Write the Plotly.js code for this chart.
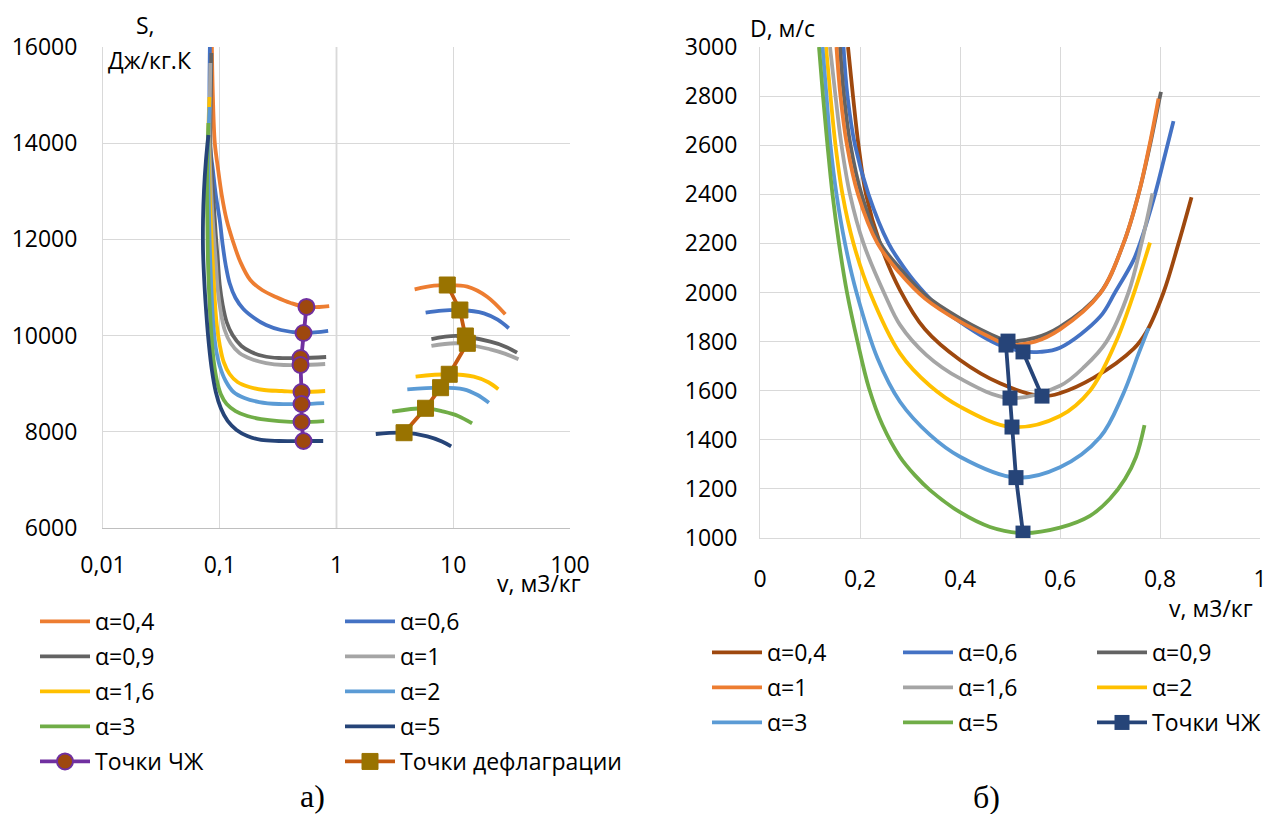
<!DOCTYPE html>
<html>
<head>
<meta charset="utf-8">
<script src="https://cdn.plot.ly/plotly-3.0.1.min.js"></script>
<style>
html,body{margin:0;padding:0;background:#fff;}
#chart{width:1269px;height:814px;}
</style>
</head>
<body>
<div id="chart"></div>
<script>
// ================= DATA =================
const alphaNames = ['α=0,4','α=0,6','α=0,9','α=1','α=1,6','α=2','α=3','α=5'];
const cjName = 'Точки ЧЖ';
const deflName = 'Точки дефлаграции';

// ---- Chart a): S (Дж/кг.К) vs v (м3/кг), log x ----
// detonation branches
const aV04 = [0.0856, 0.0873, 0.0907, 0.0962, 0.104, 0.1146, 0.1287, 0.1503, 0.1826, 0.2306, 0.3027, 0.4053, 0.553, 0.866];
const aS04 = [16000, 15002, 14004, 13505, 12923, 12403, 11988, 11530, 11156, 10948, 10802, 10678, 10595, 10615];
const aV06 = [0.0823, 0.0816, 0.0823, 0.0873, 0.0925, 0.1, 0.106, 0.1124, 0.1214, 0.1365, 0.1594, 0.1974, 0.2492, 0.3336, 0.5216, 0.848];
const aS06 = [16000, 15002, 14004, 13443, 12923, 12403, 11884, 11468, 11094, 10782, 10553, 10366, 10220, 10116, 10054, 10096];
const aV09 = [0.0848, 0.0839, 0.0831, 0.0856, 0.089, 0.0925, 0.0962, 0.1, 0.106, 0.1146, 0.1287, 0.1533, 0.1862, 0.2351, 0.3209, 0.492, 0.8153];
const aS09 = [15875, 15002, 14004, 13339, 12715, 12091, 11572, 11052, 10636, 10283, 10012, 9784, 9659, 9576, 9534, 9534, 9555];
const aV10 = [0.0831, 0.0823, 0.0816, 0.0831, 0.0856, 0.089, 0.0925, 0.0962, 0.102, 0.1102, 0.1238, 0.1475, 0.1862, 0.2492, 0.3537, 0.492, 0.7998];
const aS10 = [15667, 15002, 14004, 13339, 12715, 12091, 11530, 10948, 10491, 10116, 9846, 9638, 9513, 9430, 9389, 9389, 9410];
const aV16 = [0.0816, 0.08, 0.0808, 0.0823, 0.0848, 0.0873, 0.0907, 0.0943, 0.1, 0.1081, 0.1214, 0.1419, 0.179, 0.2397, 0.3401, 0.5017, 0.7998];
const aS16 = [14961, 14274, 13547, 12819, 12091, 11468, 10740, 10220, 9805, 9451, 9202, 9035, 8931, 8869, 8848, 8827, 8848];
const aV20 = [0.0816, 0.08, 0.08, 0.0808, 0.0823, 0.0848, 0.0881, 0.0925, 0.1, 0.1124, 0.1312, 0.1626, 0.2175, 0.3209, 0.5017, 0.7843];
const aS20 = [14753, 14067, 13339, 12611, 11780, 10948, 10220, 9742, 9368, 9056, 8827, 8702, 8619, 8578, 8578, 8598];
const aV30 = [0.08, 0.0784, 0.0777, 0.0784, 0.0792, 0.0816, 0.0848, 0.089, 0.0943, 0.102, 0.1146, 0.1365, 0.1723, 0.2262, 0.3209, 0.5017, 0.7843];
const aS30 = [14420, 13755, 13027, 12299, 11572, 10740, 10012, 9451, 9077, 8786, 8578, 8432, 8328, 8266, 8224, 8204, 8224];
const aV50 = [0.08, 0.0762, 0.0733, 0.0719, 0.0719, 0.074, 0.0769, 0.0808, 0.0856, 0.0925, 0.102, 0.1168, 0.1392, 0.1723, 0.2262, 0.3209, 0.5216, 0.7692];
const aS50 = [14170, 13651, 13027, 12403, 11780, 11052, 10428, 9805, 9285, 8827, 8495, 8225, 8038, 7913, 7830, 7809, 7809, 7809];
// deflagration branches
const dV04 = [4.67, 6.84, 8.9, 13.2, 19.5, 27.9];
const dS04 = [10963, 11040, 11050, 11017, 10808, 10443];
const dV06 = [5.8, 8, 11.4, 18.3, 24, 29.9];
const dS06 = [10476, 10520, 10532, 10463, 10330, 10152];
const dV09 = [6.5, 10.8, 20.8, 28, 35.2];
const dS09 = [9929, 9992, 9873, 9770, 9645];
const dV10 = [6.5, 10.8, 20.8, 28, 36.2];
const dS10 = [9784, 9840, 9715, 9620, 9507];
const dV16 = [4.76, 9.24, 15.0, 20, 24.3];
const dS16 = [9146, 9196, 9146, 9030, 8884];
const dV20 = [4.04, 7.79, 12.3, 16, 20.2];
const dS20 = [8883, 8917, 8883, 8770, 8605];
const dV30 = [3.0, 5.79, 8.3, 11, 14.5];
const dS30 = [8418, 8489, 8418, 8330, 8176];
const dV50 = [2.17, 3.79, 6.0, 8.0, 9.6];
const dS50 = [7954, 7981, 7906, 7800, 7698];
// points
const cjV_a = [0.553, 0.5216, 0.492, 0.492, 0.5017, 0.5017, 0.5017, 0.5216];
const cjS_a = [10595, 10054, 9534, 9389, 8827, 8578, 8204, 7809];
const deflV = [8.89, 11.4, 12.7, 13.2, 9.24, 7.79, 5.79, 3.79];
const deflS = [11052, 10532, 9992, 9840, 9196, 8917, 8489, 7981];

// ---- Chart б): D (м/с) vs v (м3/кг) ----
const bV04 = [0.176, 0.186, 0.197, 0.212, 0.24, 0.28, 0.33, 0.40, 0.48, 0.564, 0.60, 0.667, 0.747, 0.773, 0.807, 0.837, 0.863];
const bD04 = [3000, 2800, 2600, 2400, 2200, 2010, 1850, 1725, 1630, 1578, 1590, 1652, 1770, 1840, 2000, 2200, 2388];
const bV06 = [0.167, 0.175, 0.19, 0.217, 0.257, 0.28, 0.307, 0.35, 0.40, 0.45, 0.48, 0.526, 0.56, 0.60, 0.68, 0.71, 0.747, 0.76, 0.79, 0.81, 0.827];
const bD06 = [3000, 2800, 2600, 2400, 2200, 2125, 2050, 1955, 1880, 1815, 1785, 1760, 1758, 1775, 1901, 2000, 2132, 2200, 2400, 2560, 2698];
const bV09 = [0.16, 0.168, 0.181, 0.203, 0.241, 0.28, 0.33, 0.40, 0.48, 0.496, 0.55, 0.60, 0.68, 0.727, 0.757, 0.780, 0.798, 0.802];
const bD09 = [3000, 2800, 2600, 2400, 2200, 2098, 1990, 1895, 1813, 1802, 1815, 1860, 1997, 2200, 2400, 2600, 2780, 2817];
const bV10 = [0.153, 0.161, 0.174, 0.196, 0.235, 0.28, 0.33, 0.40, 0.48, 0.492, 0.55, 0.60, 0.68, 0.727, 0.757, 0.779, 0.797];
const bD10 = [3000, 2800, 2600, 2400, 2200, 2078, 1975, 1881, 1798, 1786, 1800, 1850, 1995, 2200, 2400, 2600, 2790];
const bV16 = [0.14, 0.151, 0.163, 0.18, 0.207, 0.25, 0.28, 0.333, 0.40, 0.50, 0.60, 0.65, 0.693, 0.737, 0.763, 0.785];
const bD16 = [3000, 2800, 2600, 2400, 2200, 1990, 1868, 1745, 1650, 1570, 1620, 1700, 1800, 2000, 2200, 2404];
const bV20 = [0.132, 0.141, 0.151, 0.165, 0.187, 0.22, 0.28, 0.34, 0.40, 0.504, 0.60, 0.66, 0.71, 0.745, 0.78];
const bD20 = [3000, 2800, 2600, 2400, 2200, 2000, 1752, 1620, 1535, 1452, 1497, 1600, 1790, 1980, 2203];
const bV30 = [0.125, 0.133, 0.141, 0.153, 0.17, 0.193, 0.235, 0.28, 0.34, 0.40, 0.512, 0.60, 0.68, 0.725, 0.757, 0.777];
const bD30 = [3000, 2800, 2600, 2400, 2200, 2000, 1732, 1555, 1420, 1331, 1246, 1288, 1410, 1580, 1750, 1855];
const bV50 = [0.118, 0.126, 0.135, 0.145, 0.158, 0.174, 0.195, 0.218, 0.245, 0.28, 0.31, 0.34, 0.40, 0.46, 0.526, 0.60, 0.66, 0.70, 0.73, 0.752, 0.769];
const bD50 = [3000, 2800, 2600, 2400, 2200, 2000, 1800, 1610, 1460, 1330, 1255, 1195, 1105, 1045, 1020, 1042, 1090, 1160, 1240, 1330, 1460];
const cjV_b = [0.564, 0.526, 0.496, 0.492, 0.50, 0.504, 0.512, 0.526];
const cjD_b = [1578, 1758, 1802, 1786, 1570, 1452, 1246, 1020];

// axis ticks
const aTickVals = [0.01, 0.1, 1, 10, 100];
const aTickText = ['0,01', '0,1', '1', '10', '100'];
const bTickVals = [0, 0.2, 0.4, 0.6, 0.8, 1];
const bTickText = ['0', '0,2', '0,4', '0,6', '0,8', '1'];

// ================= STYLE =================
const FONT = 'Open Sans, sans-serif';
const FS = 23;
const C = {
  orange: '#ED7D31', blue: '#4472C4', dgrey: '#636363', lgrey: '#A5A5A5',
  yellow: '#FFC000', lblue: '#5B9BD5', green: '#70AD47', navy: '#264478',
  brown: '#9E480E', purple: '#7030A0', deflLine: '#C55A11', deflMark: '#997300'
};
const LW = 3.8;

function curve(x, y, name, color, legend, xa, ya, grp) {
  return {
    type: 'scatter', mode: 'lines', x: x, y: y, name: name,
    line: {color: color, width: LW, shape: 'spline', smoothing: 1},
    connectgaps: false, legend: legend, legendgroup: grp,
    xaxis: xa, yaxis: ya, hoverinfo: 'skip'
  };
}
function joinBranches(a, b) { return a.concat([null], b); }

const aColors = [C.orange, C.blue, C.dgrey, C.lgrey, C.yellow, C.lblue, C.green, C.navy];
const aDetV = [aV04, aV06, aV09, aV10, aV16, aV20, aV30, aV50];
const aDetS = [aS04, aS06, aS09, aS10, aS16, aS20, aS30, aS50];
const aDefV = [dV04, dV06, dV09, dV10, dV16, dV20, dV30, dV50];
const aDefS = [dS04, dS06, dS09, dS10, dS16, dS20, dS30, dS50];
const aLegends = ['legend', 'legend2', 'legend', 'legend2', 'legend', 'legend2', 'legend', 'legend2'];

const bColors = [C.brown, C.blue, C.dgrey, C.orange, C.lgrey, C.yellow, C.lblue, C.green];
const bV = [bV04, bV06, bV09, bV10, bV16, bV20, bV30, bV50];
const bD = [bD04, bD06, bD09, bD10, bD16, bD20, bD30, bD50];
const bLegends = ['legend3', 'legend4', 'legend5', 'legend3', 'legend4', 'legend5', 'legend3', 'legend4'];

const traces = [];
for (let i = 0; i < 8; i++) {
  traces.push(curve(joinBranches(aDetV[i], aDefV[i]), joinBranches(aDetS[i], aDefS[i]),
    alphaNames[i], aColors[i], aLegends[i], 'x', 'y', 'a' + i));
}
traces.push({
  type: 'scatter', mode: 'lines+markers', x: cjV_a, y: cjS_a, name: cjName,
  line: {color: C.purple, width: LW},
  marker: {symbol: 'circle', size: 16, color: C.brown, line: {color: C.purple, width: 2}},
  legend: 'legend', legendgroup: 'a8', xaxis: 'x', yaxis: 'y', hoverinfo: 'skip'
});
traces.push({
  type: 'scatter', mode: 'lines+markers', x: deflV, y: deflS, name: deflName,
  line: {color: C.deflLine, width: LW},
  marker: {symbol: 'square', size: 16, color: C.deflMark, line: {color: C.deflMark, width: 1}},
  legend: 'legend2', legendgroup: 'a9', xaxis: 'x', yaxis: 'y', hoverinfo: 'skip'
});
for (let i = 0; i < 8; i++) {
  traces.push(curve(bV[i], bD[i], alphaNames[i], bColors[i], bLegends[i], 'x2', 'y2', 'b' + i));
}
traces.push({
  type: 'scatter', mode: 'lines+markers', x: cjV_b, y: cjD_b, name: cjName,
  line: {color: C.navy, width: LW},
  marker: {symbol: 'square', size: 15, color: C.navy},
  legend: 'legend5', legendgroup: 'b8', xaxis: 'x2', yaxis: 'y2', hoverinfo: 'skip'
});

// ================= LAYOUT =================
const W = 1269, H = 814;
const PL = 103, PR = 1260, PT = 47, PB = 538;
const pxX = px => (px - PL) / (PR - PL);
const pxY = py => (PB - py) / (PB - PT);
const tickFont = {family: FONT, size: FS, color: '#000'};

function legendAt(px, py) {
  return {
    orientation: 'v', xref: 'container', yref: 'container',
    x: px / W, y: 1 - py / H, xanchor: 'left', yanchor: 'top',
    bgcolor: 'rgba(0,0,0,0)', borderwidth: 0,
    font: {family: FONT, size: FS, color: '#000'},
    traceorder: 'grouped', tracegroupgap: 2.1, itemwidth: 50
  };
}

function ann(text, px, py, opts) {
  return Object.assign({
    text: text, xref: 'paper', yref: 'paper', x: pxX(px), y: pxY(py),
    xanchor: 'center', yanchor: 'middle', showarrow: false,
    font: {family: FONT, size: FS, color: '#000'}
  }, opts || {});
}

const layout = {
  width: W, height: H,
  margin: {l: PL, r: W - PR, t: PT, b: H - PB, autoexpand: false},
  paper_bgcolor: '#fff', plot_bgcolor: '#fff',
  separators: ', ',
  showlegend: true,
  xaxis: {
    type: 'log', domain: [0, pxX(570)], range: [-2, 2],
    tickvals: aTickVals, ticktext: aTickText, tickfont: tickFont,
    showgrid: true, gridcolor: '#D9D9D9', gridwidth: 1,
    showline: true, linecolor: '#BFBFBF', linewidth: 1, zeroline: false,
    ticks: '', ticklabelstandoff: 16, anchor: 'y', fixedrange: true
  },
  yaxis: {
    domain: [pxY(528), 1], range: [6000, 16000], dtick: 2000, tick0: 0,
    tickformat: 'd', tickfont: tickFont,
    showgrid: true, gridcolor: '#D9D9D9', gridwidth: 1,
    showline: true, linecolor: '#D9D9D9', linewidth: 1, zeroline: false,
    ticks: '', ticklabelstandoff: 20, anchor: 'x', fixedrange: true
  },
  xaxis2: {
    domain: [pxX(760), 1], range: [0, 1],
    tickvals: bTickVals, ticktext: bTickText, tickfont: tickFont,
    showgrid: true, gridcolor: '#D9D9D9', gridwidth: 1,
    showline: true, linecolor: '#D9D9D9', linewidth: 1, zeroline: false,
    ticks: '', ticklabelstandoff: 20, anchor: 'y2', fixedrange: true
  },
  yaxis2: {
    domain: [0, 1], range: [1000, 3000], dtick: 200, tick0: 0,
    tickformat: 'd', tickfont: tickFont,
    showgrid: true, gridcolor: '#D9D9D9', gridwidth: 1,
    showline: true, linecolor: '#D9D9D9', linewidth: 1, zeroline: false,
    ticks: '', ticklabelstandoff: 17, anchor: 'x2', fixedrange: true
  },
  shapes: [
    {type: 'line', xref: 'x domain', yref: 'y domain', x0: 0.5, x1: 0.5, y0: 0, y1: 1,
     line: {color: '#BFBFBF', width: 1.5}, layer: 'below'}
  ],
  legend: legendAt(35, 600),
  legend2: legendAt(340, 600),
  legend3: legendAt(707, 631),
  legend4: legendAt(898, 631),
  legend5: legendAt(1092, 631),
  annotations: [
    ann('S,', 145, 25),
    ann('Дж/кг.К', 150, 60),
    ann('v, м3/кг', 539, 583),
    ann('D, м/с', 782, 28),
    ann('v, м3/кг', 1211, 608),
    ann('а)', 312, 796, {font: {family: 'Liberation Serif, serif', size: 32, color: '#000'}}),
    ann('б)', 986, 797, {font: {family: 'Liberation Serif, serif', size: 32, color: '#000'}})
  ]
};

Plotly.newPlot('chart', traces, layout, {staticPlot: true, displayModeBar: false});
</script>
</body>
</html>
